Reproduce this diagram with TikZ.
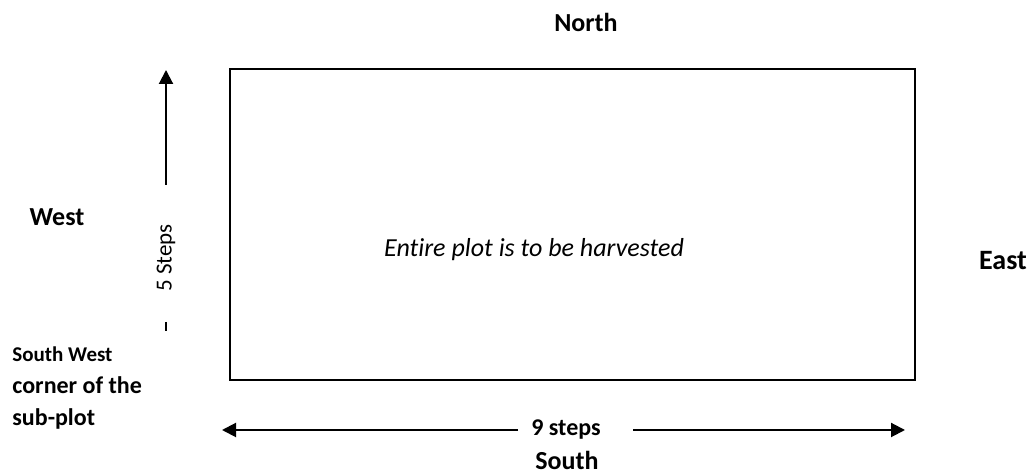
\documentclass[tikz,border=0pt]{standalone}
\usepackage{fontspec}
\setmainfont[Ligatures=NoCommon]{Carlito}
\usetikzlibrary{arrows.meta}
\tikzset{
  compass/.style={font=\bfseries\fontsize{13}{15}\selectfont},
  cornerlabel/.style={anchor=base west,inner sep=0pt,font=\bfseries\fontsize{12}{14}\selectfont},
  steparrow/.style={line width=1pt,-{Triangle[length=7pt,width=7pt]}},
}
\begin{document}
\begin{tikzpicture}[x=0.5pt,y=0.5pt]
\useasboundingbox (0,0) rectangle (1031,474);
% plot outline
\node[draw,line width=1.1pt,minimum width=342.5pt,minimum height=155.5pt,inner sep=0pt] (plot) at (572.5,249.5) {};
\node[font=\itshape\fontsize{13}{15}\selectfont] (harvest) at (534,224) {Entire plot is to be harvested};
% directions
\node[compass] (north) at (586,452) {North};
\node[compass] (west) at (57,257) {West};
\node[compass,font=\bfseries\fontsize{14}{16}\selectfont] (east) at (1003,213) {East};
\node[compass] (south) at (567,14) {South};
% side of 5 steps
\coordinate (wbase) at (166,289);
\coordinate (wtip) at (166,404);
\draw[steparrow] (wbase) -- (wtip);
\node[rotate=90,font=\fontsize{11.5}{14}\selectfont] (steps5) at (166,216) {5 Steps};
\coordinate (tickhi) at (166,152);
\coordinate (ticklo) at (166,143);
\draw[line width=1pt] (tickhi) -- (ticklo);
% side of 9 steps
\node[font=\bfseries\fontsize{12}{14}\selectfont] (steps9) at (566,44) {9 steps};
\coordinate (sleft) at (518,44);
\coordinate (sltip) at (222,44);
\coordinate (sright) at (633,44);
\coordinate (srtip) at (905,44);
\draw[steparrow] (sleft) -- (sltip);
\draw[steparrow] (sright) -- (srtip);
% corner note
\node[cornerlabel,font=\bfseries\fontsize{10.5}{13}\selectfont] (sw1) at (12,112) {South West};
\node[cornerlabel] (sw2) at (12,80) {corner of the};
\node[cornerlabel] (sw3) at (12,48) {sub-plot};
\end{tikzpicture}
\end{document}
